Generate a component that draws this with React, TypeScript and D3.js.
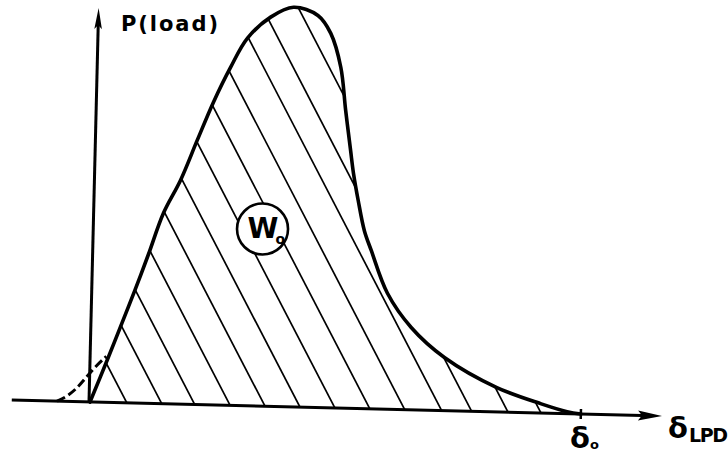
import React from 'react';
import * as d3 from 'd3';

// Load–displacement curve (δ normalised by δo, P normalised by peak load)
const deltaLPD = [0.002, 0.035, 0.06, 0.088, 0.113, 0.142, 0.175, 0.207, 0.238, 0.271, 0.304, 0.35, 0.396, 0.446, 0.473, 0.495, 0.507, 0.519, 0.526, 0.537, 0.551, 0.566, 0.601, 0.651, 0.72, 0.828, 0.919, 0.972, 1.0];
const load = [0, 0.106, 0.189, 0.283, 0.371, 0.477, 0.56, 0.661, 0.757, 0.845, 0.919, 0.973, 0.999, 0.98, 0.936, 0.852, 0.745, 0.645, 0.588, 0.52, 0.445, 0.396, 0.29, 0.206, 0.133, 0.061, 0.023, 0.005, 0];

// dashed toe region
const toeDelta = [-0.065, -0.045, -0.024, -0.008, 0.012, 0.033];
const toeLoad = [0, 0.012, 0.035, 0.06, 0.09, 0.115];

// hatch lines: where each one meets the δ axis
const hatchDelta = [0.077, 0.148, 0.215, 0.287, 0.358, 0.429, 0.5, 0.571, 0.642, 0.717, 0.778, 0.852, 0.919];

const yAxisLabel = 'P(load)';
const areaLabel = 'W';
const areaLabelSub = 'o';
const xAxisSymbol = 'δ';
const xAxisSub = 'LPD';
const tickSymbol = 'δ';
const tickSub = 'o';
const areaLabelPos = [0.344, 0.443];

const W = 728;
const H = 459;
const FONT = '"DejaVu Sans", "Liberation Sans", sans-serif';

export default function App() {
  const x = d3.scaleLinear().domain([0, 1]).range([0, 492]);
  const y = d3.scaleLinear().domain([0, 1]).range([0, -400]);

  const pts: [number, number][] = deltaLPD.map((d, i) => [d, load[i]]);
  const curve = d3.curveCatmullRom.alpha(0.5);
  const line = d3
    .line<[number, number]>()
    .x((d) => x(d[0]))
    .y((d) => y(d[1]))
    .curve(curve);
  const area = d3
    .area<[number, number]>()
    .x((d) => x(d[0]))
    .y0(y(0))
    .y1((d) => y(d[1]))
    .curve(curve);

  const toePts: [number, number][] = toeDelta.map((d, i) => [d, toeLoad[i]]);
  const toeLine = d3
    .line<[number, number]>()
    .x((d) => x(d[0]))
    .y((d) => y(d[1]))
    .curve(d3.curveBasis);

  const k = 0.55; // horizontal run per unit rise of hatch lines
  const xMin = x(-0.157);
  const xMax = x(1.165);
  const yTop = y(0.985);

  return (
    <svg
      width={W}
      height={H}
      style={{ position: 'absolute', left: 0, top: 0, background: '#fff' }}
      fontFamily={FONT}
    >
      <rect width={W} height={H} fill="#fff" />
      <defs>
        <clipPath id="areaClip">
          <path d={area(pts) || ''} />
        </clipPath>
      </defs>
      <g transform="translate(89,402) rotate(1.4)">
        {/* hatching */}
        <g clipPath="url(#areaClip)" stroke="#000" strokeWidth={1.7}>
          {hatchDelta.map((d, i) => (
            <line key={i} x1={x(d) + k * 6} y1={6} x2={x(d) - k * 430} y2={-430} />
          ))}
        </g>
        {/* dashed toe */}
        <path
          d={toeLine(toePts) || ''}
          fill="none"
          stroke="#000"
          strokeWidth={3}
          strokeDasharray="9 4"
        />
        {/* axes */}
        <line x1={xMin} y1={0} x2={xMax - 20} y2={0} stroke="#000" strokeWidth={3} />
        <polygon
          points={`${xMax},0 ${xMax - 24},-5 ${xMax - 20},0 ${xMax - 24},5`}
          fill="#000"
        />
        <line x1={0} y1={0} x2={0} y2={yTop + 16} stroke="#000" strokeWidth={3} />
        <polygon
          points={`0,${yTop} -3.8,${yTop + 21} 0,${yTop + 17} 3.8,${yTop + 21}`}
          fill="#000"
        />
        {/* δo tick */}
        <line x1={x(1)} y1={-5} x2={x(1)} y2={5} stroke="#000" strokeWidth={2.5} />
        {/* curve */}
        <path
          d={line(pts) || ''}
          fill="none"
          stroke="#000"
          strokeWidth={3.6}
          strokeLinejoin="round"
          strokeLinecap="round"
        />
        {/* area label */}
        <g transform={`translate(${x(areaLabelPos[0])},${y(areaLabelPos[1])}) rotate(-1.4)`}>
          <circle r={25.5} fill="#fff" stroke="#000" strokeWidth={2.6} />
          <text x={-15} y={9} fontSize={28} fontWeight="bold">
            {areaLabel}
          </text>
          <text x={13} y={15} fontSize={14} fontWeight="bold">
            {areaLabelSub}
          </text>
        </g>
      </g>

      {/* labels */}
      <text x={121} y={31} fontSize={21} fontWeight="bold" textLength={97} lengthAdjust="spacing">
        {yAxisLabel}
      </text>
      <text x={570} y={448} fontSize={29} fontWeight="bold">
        {tickSymbol}
      </text>
      <text x={590} y={449} fontSize={13} fontWeight="bold">
        {tickSub}
      </text>
      <text x={668} y={438} fontSize={29} fontWeight="bold">
        {xAxisSymbol}
      </text>
      <text x={689} y={442} fontSize={19} fontWeight="bold" textLength={39} lengthAdjust="spacing">
        {xAxisSub}
      </text>
    </svg>
  );
}
